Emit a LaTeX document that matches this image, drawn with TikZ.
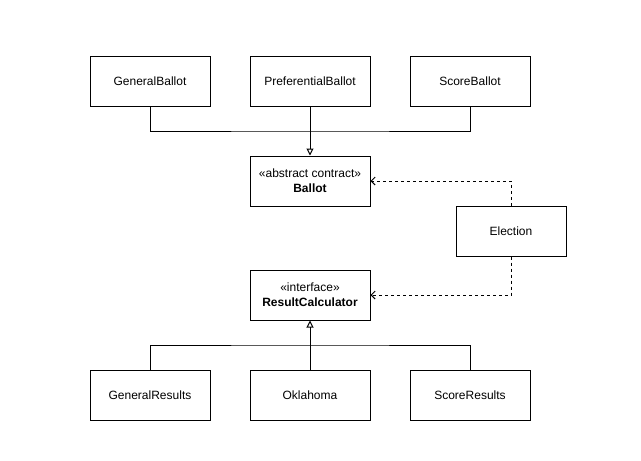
\documentclass[tikz,border=0pt]{standalone}
\usepackage{fontspec}
\setmainfont{Liberation Sans}
\usetikzlibrary{arrows.meta}
\begin{document}
\begin{tikzpicture}[x=1pt,y=-1pt,
  cls/.style={draw,line width=1pt,minimum width=120pt,minimum height=50pt,inner sep=0pt,align=center,font=\fontsize{12}{15}\selectfont},
  conn/.style={line width=1pt},
  gen/.style={conn,-{Triangle[open,width=7pt,length=7pt]}},
  dep/.style={conn,dash pattern=on 3pt off 3pt,-{Straight Barb[length=4pt,width=8pt]}}]
\useasboundingbox (0,0) rectangle (641,461);
\node[cls] (gb) at (150,81) {GeneralBallot};
\node[cls] (pb) at (310,81) {PreferentialBallot};
\node[cls] (sb) at (470,81) {ScoreBallot};
\node[cls] (ballot) at (310,181) {«abstract contract»\\\textbf{Ballot}};
\node[cls,minimum width=110pt] (el) at (511,231) {Election};
\node[cls] (rc) at (310,295) {«interface»\\\textbf{ResultCalculator}};
\node[cls] (gr) at (150,395) {GeneralResults};
\node[cls] (ok) at (310,395) {Oklahoma};
\node[cls] (sr) at (470,395) {ScoreResults};
\coordinate (jt) at (310,131);
\coordinate (jb) at (310,345);
\draw[conn] (gb.south) |- (jt) -| (sb.south);
\draw[gen] (pb.south) -- (ballot.north);
\draw[conn] (gr.north) |- (jb) -| (sr.north);
\draw[gen] (ok.north) -- (rc.south);
\draw[dep] (el.north) |- (ballot.east);
\draw[dep] (el.south) |- (rc.east);
\end{tikzpicture}
\end{document}
